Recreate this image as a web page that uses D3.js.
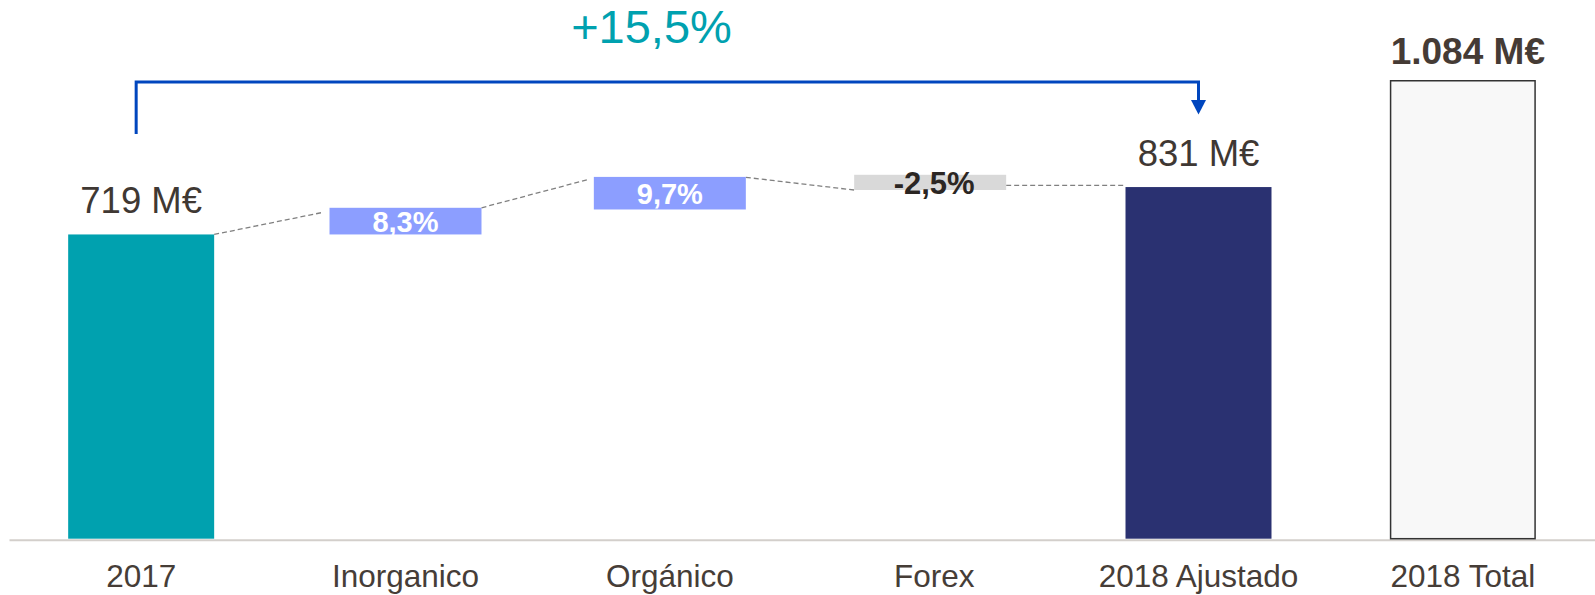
<!DOCTYPE html>
<html>
<head>
<meta charset="utf-8">
<script src="https://cdn.jsdelivr.net/npm/d3@7"></script>
<style>
  html, body { margin: 0; padding: 0; background: #ffffff; }
  svg { display: block; font-family: "Liberation Sans", Arial, sans-serif; }
</style>
</head>
<body>
<svg id="chart" width="1595" height="595"></svg>
<script>
// ---- data ----
const categories = ["2017", "Inorganico", "Orgánico", "Forex", "2018 Ajustado", "2018 Total"];
// solid bars (from 0)
const totalCats   = ["2017", "2018 Ajustado", "2018 Total"];
const totalValues = [719, 831, 1084];
const totalLabels = ["719 M€", "831 M€", "1.084 M€"];
// floating step boxes (low/high as drawn, in M€)
const stepCats   = ["Inorganico", "Orgánico", "Forex"];
const stepLow    = [719, 778, 824];
const stepHigh   = [782, 855, 860];
const stepLabels = ["8,3%", "9,7%", "-2,5%"];
// dashed connectors between bars (values where they start / end)
const connFrom    = ["2017", "Inorganico", "Orgánico", "Forex"];
const connTo      = ["Inorganico", "Orgánico", "Forex", "2018 Ajustado"];
const connFromVal = [719, 782, 854, 835];
const connToVal   = [771, 848, 824, 835];
// growth annotation
const growthLabel = "+15,5%";
const growthFrom = "2017";
const growthTo = "2018 Ajustado";

// ---- styles ----
const svg = d3.select("#chart");
const txtColor = "#463d37";

const x = d3.scaleBand().domain(categories).range([9, 1595])
  .paddingInner(0.4477).paddingOuter(0.4477 / 2);
const y = d3.scaleLinear().domain([0, 1084]).range([538.7, 80]);

const barFill = {"2017": "#00A1AF", "2018 Ajustado": "#2A3171", "2018 Total": "#F8F8F8"};
const stepFill = {"Inorganico": "#8C9EFF", "Orgánico": "#8C9EFF", "Forex": "#D9D9D9"};
const stepText = {"Inorganico": "#ffffff", "Orgánico": "#ffffff", "Forex": "#2B2623"};
const stepShift = {"Inorganico": 0, "Orgánico": 0, "Forex": -4};
const stepExtra = 3; // step boxes drawn slightly wider

const bw = x.bandwidth();
const cx = c => x(c) + bw / 2;

// ---- axis ----
const axisY = 539.8;
const axisG = svg.append("g")
  .attr("transform", `translate(0,${axisY})`)
  .call(d3.axisBottom(x).tickSize(0).tickPadding(25));
axisG.select(".domain").attr("stroke", "#D3CFCB").attr("stroke-width", 2);
axisG.selectAll(".tick text")
  .attr("font-family", "'Liberation Sans', Arial, sans-serif")
  .attr("font-size", 31.5)
  .attr("fill", txtColor);

// ---- connectors ----
const connData = connFrom.map((f, i) => ({f, t: connTo[i], fv: connFromVal[i], tv: connToVal[i]}));
const rightEdge = c => stepCats.includes(c) ? x(c) + bw + stepExtra + stepShift[c] : x(c) + bw;
const leftEdge = c => stepCats.includes(c) ? x(c) - stepExtra + stepShift[c] : x(c);
svg.append("g").selectAll("line").data(connData).join("line")
  .attr("x1", d => rightEdge(d.f))
  .attr("x2", d => leftEdge(d.t) - (stepCats.includes(d.t) && d.t !== "Forex" ? 7 : 0))
  .attr("y1", d => y(d.fv))
  .attr("y2", d => y(d.tv))
  .attr("stroke", "#808080")
  .attr("stroke-width", 1.3)
  .attr("stroke-dasharray", "5,3");

// ---- total bars ----
const totals = totalCats.map((c, i) => ({c, v: totalValues[i], l: totalLabels[i]}));
svg.append("g").selectAll("rect").data(totals).join("rect")
  .attr("x", d => x(d.c) + (d.c === "2018 Total" ? 0.75 : 0))
  .attr("width", d => bw - (d.c === "2018 Total" ? 1.5 : 0))
  .attr("y", d => y(d.v) + (d.c === "2018 Total" ? 0.75 : 0))
  .attr("height", d => y(0) - y(d.v) - (d.c === "2018 Total" ? 0.75 : 0))
  .attr("fill", d => barFill[d.c])
  .attr("stroke", d => d.c === "2018 Total" ? "#333333" : "none")
  .attr("stroke-width", 1.5);

svg.append("g").selectAll("text").data(totals).join("text")
  .attr("x", d => cx(d.c) + (d.c === "2018 Total" ? 5 : 0))
  .attr("y", d => y(d.v) - (d.c === "2018 Total" ? 16 : 21))
  .attr("text-anchor", "middle")
  .attr("font-size", d => d.c === "2018 Total" ? 37 : 36.5)
  .attr("font-weight", d => d.c === "2018 Total" ? "bold" : "normal")
  .attr("fill", d => d.c === "2018 Total" ? "#453B35" : "#3F3833")
  .text(d => d.l);

// ---- step boxes ----
const steps = stepCats.map((c, i) => ({c, lo: stepLow[i], hi: stepHigh[i], l: stepLabels[i]}));
svg.append("g").selectAll("rect").data(steps).join("rect")
  .attr("x", d => x(d.c) - stepExtra + stepShift[d.c])
  .attr("width", bw + 2 * stepExtra)
  .attr("y", d => y(d.hi))
  .attr("height", d => y(d.lo) - y(d.hi))
  .attr("fill", d => stepFill[d.c]);
svg.append("g").selectAll("text").data(steps).join("text")
  .attr("x", d => cx(d.c))
  .attr("y", d => (y(d.hi) + y(d.lo)) / 2 + (d.c === "Forex" ? 0.36 * 31 : 0.36 * 29))
  .attr("text-anchor", "middle")
  .attr("font-size", d => d.c === "Forex" ? 31 : 29)
  .attr("font-weight", "bold")
  .attr("fill", d => stepText[d.c])
  .text(d => d.l);

// ---- growth bracket ----
const blue = "#0046BE";
const bx1 = cx(growthFrom) - 5, bx2 = cx(growthTo);
const bTop = 82, bLeftBottom = 134, arrowBase = 100, arrowTip = 114.5;
svg.append("path")
  .attr("d", `M${bx1},${bLeftBottom} V${bTop} H${bx2} V${arrowBase}`)
  .attr("fill", "none").attr("stroke", blue).attr("stroke-width", 3);
svg.append("path")
  .attr("d", `M${bx2 - 7.5},${arrowBase} L${bx2 + 7.5},${arrowBase} L${bx2},${arrowTip} Z`)
  .attr("fill", blue);
svg.append("text")
  .attr("x", 651.5).attr("y", 42.7)
  .attr("text-anchor", "middle")
  .attr("font-size", 47)
  .attr("fill", "#00A1AF")
  .text(growthLabel);
</script>
</body>
</html>
